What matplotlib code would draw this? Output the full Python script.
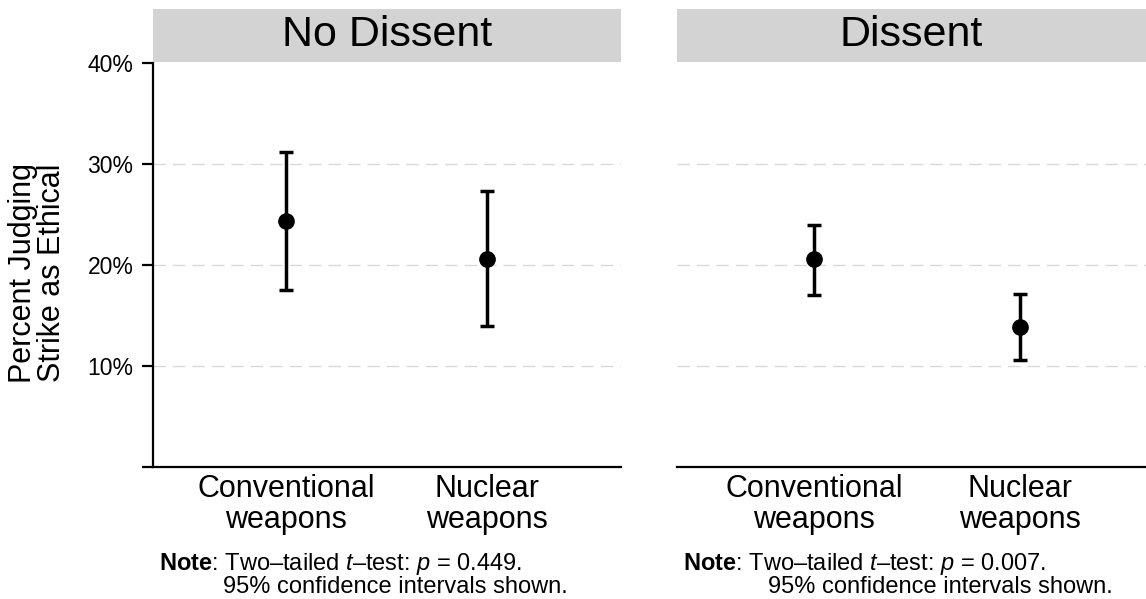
import matplotlib
matplotlib.use("Agg")
import matplotlib.pyplot as plt
from matplotlib.patches import Rectangle

plt.rcParams['font.family'] = ['Liberation Sans', 'DejaVu Sans']
plt.rcParams['mathtext.fontset'] = 'custom'
plt.rcParams['mathtext.rm'] = 'Liberation Sans'
plt.rcParams['mathtext.it'] = 'Liberation Sans:italic'
plt.rcParams['mathtext.bf'] = 'Liberation Sans:bold'

# -----------------------------
# data
# -----------------------------
panels = ["No Dissent", "Dissent"]
weapons = ["Conventional\nweapons", "Nuclear\nweapons"]
positions = [1, 2]

no_dissent_mean = [24.4, 20.65]
no_dissent_lo = [17.55, 14.0]
no_dissent_hi = [31.2, 27.4]

dissent_mean = [20.6, 13.9]
dissent_lo = [17.1, 10.6]
dissent_hi = [24.0, 17.15]

p_values = ["0.449", "0.007"]

y_ticks = [0, 10, 20, 30, 40]
y_ticklabels = ["", "10%", "20%", "30%", "40%"]
grid_levels = [10, 20, 30]

means = [no_dissent_mean, dissent_mean]
los = [no_dissent_lo, dissent_lo]
his = [no_dissent_hi, dissent_hi]

W, H = 1146, 599
fig = plt.figure(figsize=(W / 100, H / 100), dpi=100)

# panel boxes in pixels: (left, right)
panel_px = [(153, 621), (677, 1146)]
xlims = [(0.338, 2.667), (0.336, 2.61)]
ax_top, ax_bot = 63.3, 467.3
strip_top, strip_bot = 9, 62
note_x = [(159, 223), (683, 768)]

for i, name in enumerate(panels):
    l, r = panel_px[i]
    ax = fig.add_axes([l / W, (H - ax_bot) / H, (r - l) / W, (ax_bot - ax_top) / H])
    ax.set_ylim(0, 40)
    ax.set_xlim(*xlims[i])

    for g in grid_levels:
        ax.axhline(g, color="#d9d9d9", lw=1.0, dashes=(9, 5), zorder=0)

    m = means[i]
    err = [[m[k] - los[i][k] for k in range(2)], [his[i][k] - m[k] for k in range(2)]]
    ax.errorbar(positions, m, yerr=err, fmt="o", color="black", ms=11,
                elinewidth=2.5, capsize=5, capthick=2.5, zorder=3)

    ax.set_xticks(positions)
    ax.set_xticklabels(weapons, fontsize=22, linespacing=1.05)
    ax.tick_params(axis="x", length=0, pad=5)

    for s in ["top", "right"]:
        ax.spines[s].set_visible(False)
    ax.spines["bottom"].set_linewidth(1.6)

    if i == 0:
        ax.set_yticks(y_ticks)
        ax.set_yticklabels(y_ticklabels, fontsize=16.5)
        ax.tick_params(axis="y", length=8, width=1.6, pad=6)
        ax.spines["left"].set_linewidth(1.6)
    else:
        ax.set_yticks([])
        ax.spines["left"].set_visible(False)

    # strip header
    fig.patches.append(Rectangle((l / W, (H - strip_bot) / H), (r - l) / W,
                                 (strip_bot - strip_top) / H, transform=fig.transFigure,
                                 facecolor="#d3d3d3", edgecolor="none"))
    fig.text((l + r) / 2 / W, (H - (strip_top + strip_bot) / 2) / H, name,
             fontsize=31, ha="center", va="center")

    # note
    fig.text(note_x[i][0] / W, (H - 570) / H,
             r"$\mathbf{Note}$: Two–tailed $\mathit{t}$–test: $\mathit{p}$ = " + p_values[i] + ".",
             fontsize=17, ha="left", va="baseline")
    fig.text(note_x[i][1] / W, (H - 593) / H, "95% confidence intervals shown.",
             fontsize=17, ha="left", va="baseline")

fig.text(37.5 / W, (H - 273) / H, "Percent Judging\nStrike as Ethical",
         rotation=90, fontsize=22, ha="center", va="center", linespacing=0.95)

fig.savefig("out.png", dpi=100)
